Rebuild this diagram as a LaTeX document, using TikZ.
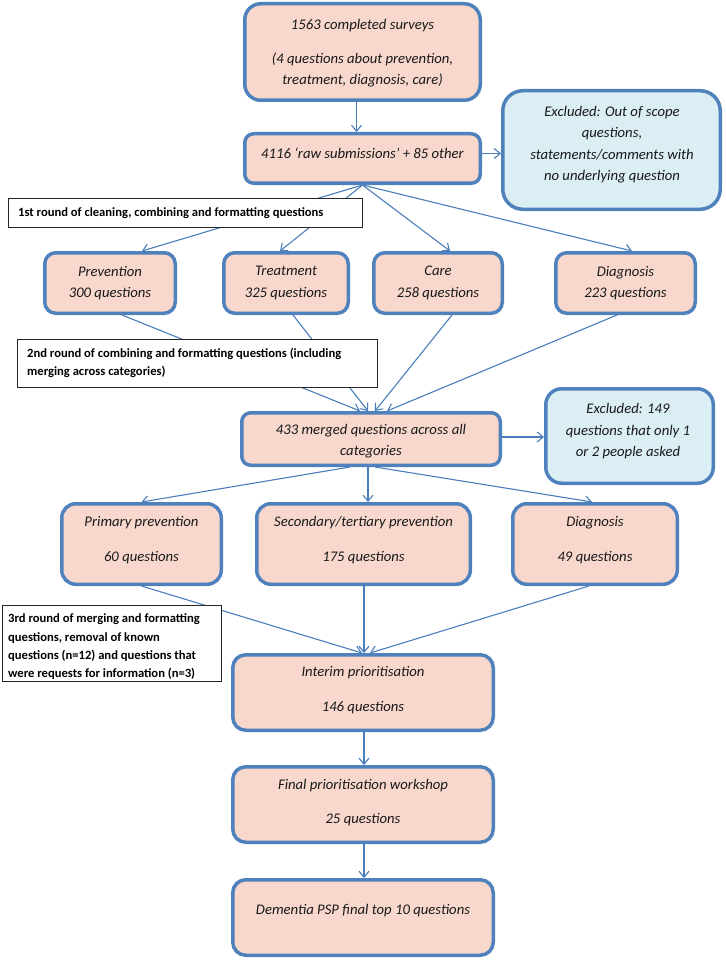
\documentclass[tikz,border=0pt]{standalone}
\usepackage{fontspec}
\setmainfont{Carlito}
\usetikzlibrary{arrows.meta,calc}
\definecolor{pinkfill}{HTML}{F8D8CD}
\definecolor{bluefill}{HTML}{DBEEF4}
\definecolor{boxline}{HTML}{4F81BD}
\definecolor{connline}{HTML}{4A7EBB}
\pgfdeclarelayer{bg}
\pgfsetlayers{bg,main}
\tikzset{
  pbox/.style={draw=boxline, line width=3.5pt, fill=pinkfill, inner sep=0pt},
  bbox/.style={pbox, fill=bluefill},
  notebox/.style={draw=black!85, line width=0.9pt, fill=white, inner sep=0pt},
  btxt/.style={align=center, font=\fontsize{14.7}{21.5}\selectfont\itshape, inner sep=0pt, text=black!90},
  ntxt/.style={align=left, anchor=west, font=\fontsize{12.6}{18.3}\selectfont\bfseries, inner sep=0pt},
  conn/.style={draw=connline, line width=1.1pt, -{Straight Barb[length=6pt,width=10pt]}},
}
\begin{document}
\begin{tikzpicture}[x=1pt,y=-1pt]
\useasboundingbox (0,0) rectangle (725,960);

% boxes
\node[pbox, minimum width=235.5, minimum height=96.5, rounded corners=16pt] (b1) at (362.5,52) {};
\node[pbox, minimum width=235.5, minimum height=49.5, rounded corners=9pt] (b2) at (362.5,158.5) {};
\node[bbox, minimum width=217.5, minimum height=118.5, rounded corners=20pt] (ex1) at (611.5,150) {};
\node[notebox, minimum width=354, minimum height=29] (n1) at (185.5,213) {};

\node[pbox, minimum width=130.5, minimum height=60.5, rounded corners=11pt] (prev) at (110,283) {};
\node[pbox, minimum width=124.5, minimum height=60.5, rounded corners=11pt] (treat) at (286,283) {};
\node[pbox, minimum width=128.5, minimum height=60.5, rounded corners=11pt] (care) at (438,283) {};
\node[pbox, minimum width=139.5, minimum height=60.5, rounded corners=11pt] (diag) at (625.5,283) {};

\node[notebox, minimum width=360, minimum height=48] (n2) at (197.5,363.5) {};

\node[pbox, minimum width=258.5, minimum height=52.5, rounded corners=9pt] (m433) at (371,439) {};
\node[bbox, minimum width=167.5, minimum height=94.5, rounded corners=16pt] (ex2) at (629.5,436) {};

\node[pbox, minimum width=159.5, minimum height=80.5, rounded corners=14pt] (prim) at (141.5,544) {};
\node[pbox, minimum width=213.5, minimum height=80.5, rounded corners=14pt] (sec) at (363.5,544) {};
\node[pbox, minimum width=164.5, minimum height=80.5, rounded corners=14pt] (diag2) at (595,544) {};

\node[notebox, minimum width=219, minimum height=76] (n3) at (112,643.5) {};

\node[pbox, minimum width=260.5, minimum height=75.5, rounded corners=13pt] (interim) at (363,692.5) {};
\node[pbox, minimum width=260.5, minimum height=75.5, rounded corners=13pt] (final) at (363,804.5) {};
\node[pbox, minimum width=260.5, minimum height=75.5, rounded corners=13pt] (dem) at (363,917.5) {};

% texts
\node[btxt] (b1t) at (362.5,53) {1563 completed surveys\\[12.5pt](4 questions about prevention,\\treatment, diagnosis, care)};
\node[btxt] (b2t) at (362.5,153) {4116 ‘raw submissions’ + 85 other};
\node[btxt] (ex1t) at (612,144.5) {Excluded: Out of scope\\questions,\\statements/comments with\\no underlying question};
\node[ntxt] (n1t) at (18,213) {1st round of cleaning, combining and formatting questions};

\node[btxt] (prevt) at (110,283) {Prevention\\300 questions};
\node[btxt] (treatt) at (286,283) {Treatment\\325 questions};
\node[btxt] (caret) at (438,283) {Care\\258 questions};
\node[btxt] (diagt) at (625.5,283) {Diagnosis\\223 questions};

\node[ntxt] (n2t) at (27,363) {2nd round of combining and formatting questions (including\\merging across categories)};

\node[btxt] (m433t) at (371,441) {433 merged questions across all\\categories};
\node[btxt] (ex2t) at (628,431.5) {Excluded: 149\\questions that only 1\\or 2 people asked};

\node[btxt] (primt) at (141.5,540.5) {Primary prevention\\[13.5pt]60 questions};
\node[btxt] (sect) at (363.5,540.5) {Secondary/tertiary prevention\\[13.5pt]175 questions};
\node[btxt] (diag2t) at (595,540.5) {Diagnosis\\[13.5pt]49 questions};

\node[ntxt] (n3t) at (8,647) {3rd round of merging and formatting\\questions, removal of known\\questions (n=12) and questions that\\were requests for information (n=3)};

\node[btxt] (interimt) at (363,690.5) {Interim prioritisation\\[13.5pt]146 questions};
\node[btxt] (finalt) at (363,803) {Final prioritisation workshop\\[12.5pt]25 questions};
\node[btxt] (demt) at (363,911) {Dementia PSP final top 10 questions};

% connectors
\begin{pgfonlayer}{bg}
\draw[conn] ($(b1.south)+(-6,0)$) -- ($(b2.north)+(-6,0)$);
\draw[conn] ($(b2.east)+(0,-5)$) -- ($(ex1.west)+(0,3.5)$);
\draw[conn] (b2.south) -- ($(prev.north)+(32,0)$);
\draw[conn] (b2.south) -- ($(treat.north)+(-6,0)$);
\draw[conn] (b2.south) -- ($(care.north)+(12,0)$);
\draw[conn] (b2.south) -- ($(diag.north)+(6.5,0)$);

\draw[conn] ($(prev.south)+(12,0)$) -- ($(m433.north)+(-11,0)$);
\draw[conn] ($(treat.south)+(7,0)$) -- ($(m433.north)+(-3,0)$);
\draw[conn] ($(care.south)+(14,0)$) -- ($(m433.north)+(4,0)$);
\draw[conn] ($(diag.south)+(-8.5,0)$) -- ($(m433.north)+(16,0)$);

\draw[conn] ($(m433.east)+(0,-2)$) -- ($(ex2.west)+(0,1)$);
\draw[conn] ($(m433.south)+(-21,0)$) -- (prim.north);
\draw[conn] ($(m433.south)+(-3,0)$) -- ($(sec.north)+(4.5,0)$);
\draw[conn] ($(m433.south)+(4,0)$) -- ($(diag2.north)+(-3,0)$);

\draw[conn] (prim.south) -- ($(interim.north)+(-1,0)$);
\draw[conn] ($(sec.south)+(0.5,0)$) -- ($(interim.north)+(1,0)$);
\draw[conn] ($(diag2.south)+(-6,0)$) -- ($(interim.north)+(7,0)$);

\draw[conn] ($(interim.south)+(1,0)$) -- ($(final.north)+(1,0)$);
\draw[conn] ($(final.south)+(1,0)$) -- ($(dem.north)+(1,0)$);
\end{pgfonlayer}
\end{tikzpicture}
\end{document}
